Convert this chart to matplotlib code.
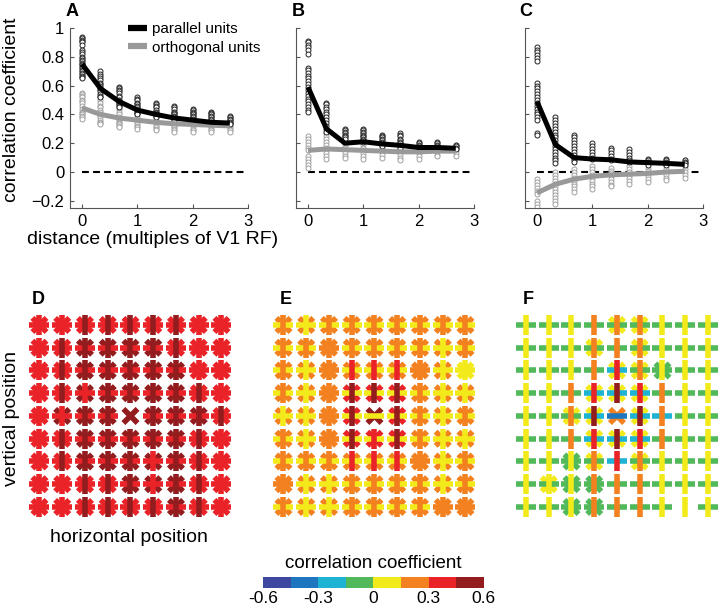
import numpy as np
import matplotlib
matplotlib.use("Agg")
import matplotlib.pyplot as plt
from matplotlib.colors import ListedColormap, BoundaryNorm
from matplotlib.collections import LineCollection
from matplotlib.lines import Line2D

plt.rcParams["font.family"] = ["Liberation Sans", "DejaVu Sans"]

# ---- top row data: distance (multiples of V1 RF) ----
distances = [0.0, 0.333, 0.667, 1.0, 1.333, 1.667, 2.0, 2.333, 2.667]

A_par_mean = [0.75, 0.58, 0.49, 0.43, 0.40, 0.375, 0.36, 0.345, 0.34]
A_orth_mean = [0.445, 0.40, 0.375, 0.36, 0.345, 0.335, 0.33, 0.325, 0.32]
B_par_mean = [0.59, 0.30, 0.20, 0.21, 0.195, 0.185, 0.17, 0.17, 0.165]
B_orth_mean = [0.15, 0.16, 0.155, 0.15, 0.145, 0.14, 0.14, 0.145, 0.145]
C_par_mean = [0.49, 0.19, 0.10, 0.09, 0.085, 0.07, 0.065, 0.06, 0.053]
C_orth_mean = [-0.145, -0.085, -0.05, -0.03, -0.02, -0.015, -0.01, 0.0, 0.005]

A_par_pts = [
    [0.94, 0.93, 0.92, 0.91, 0.90, 0.88, 0.85, 0.83, 0.82, 0.80, 0.79, 0.78, 0.77,
     0.76, 0.75, 0.74, 0.73, 0.72, 0.71, 0.70, 0.69, 0.68, 0.67, 0.66, 0.65],
    [0.70, 0.68, 0.67, 0.65, 0.64, 0.62, 0.61, 0.60, 0.58, 0.57, 0.56, 0.54, 0.53, 0.52],
    [0.59, 0.58, 0.57, 0.56, 0.55, 0.53, 0.52, 0.50, 0.49, 0.48, 0.47, 0.46, 0.45],
    [0.52, 0.51, 0.50, 0.48, 0.47, 0.46, 0.45, 0.44, 0.43, 0.42, 0.41, 0.40],
    [0.48, 0.47, 0.46, 0.45, 0.43, 0.42, 0.41, 0.40, 0.39, 0.38],
    [0.46, 0.45, 0.44, 0.42, 0.41, 0.40, 0.39, 0.38, 0.37, 0.36],
    [0.44, 0.43, 0.42, 0.41, 0.40, 0.39, 0.38, 0.37, 0.36, 0.35],
    [0.42, 0.41, 0.40, 0.39, 0.38, 0.37, 0.36, 0.35, 0.34],
    [0.39, 0.38, 0.37, 0.36, 0.35, 0.34, 0.33],
]
A_orth_pts = [
    [0.55, 0.54, 0.53, 0.52, 0.50, 0.49, 0.48, 0.46, 0.44, 0.42, 0.41, 0.40, 0.39, 0.38, 0.37],
    [0.52, 0.50, 0.48, 0.46, 0.45, 0.43, 0.42, 0.40, 0.39, 0.38, 0.36, 0.35, 0.34, 0.33],
    [0.50, 0.48, 0.46, 0.44, 0.42, 0.40, 0.38, 0.36, 0.35, 0.34, 0.33, 0.32, 0.31],
    [0.48, 0.46, 0.44, 0.42, 0.40, 0.38, 0.36, 0.35, 0.33, 0.32, 0.31, 0.30],
    [0.45, 0.43, 0.41, 0.40, 0.38, 0.36, 0.35, 0.34, 0.32, 0.31, 0.30, 0.29],
    [0.43, 0.42, 0.40, 0.38, 0.37, 0.35, 0.34, 0.32, 0.31, 0.30, 0.29, 0.28],
    [0.42, 0.40, 0.39, 0.37, 0.36, 0.34, 0.33, 0.32, 0.30, 0.29, 0.28],
    [0.40, 0.39, 0.37, 0.36, 0.35, 0.33, 0.32, 0.31, 0.30, 0.29, 0.28],
    [0.38, 0.37, 0.36, 0.35, 0.34, 0.33, 0.32, 0.31, 0.30, 0.29, 0.28],
]
B_par_pts = [
    [0.91, 0.90, 0.88, 0.87, 0.85, 0.82, 0.72, 0.71, 0.69, 0.67, 0.65, 0.63, 0.61,
     0.59, 0.57, 0.55, 0.53, 0.51, 0.49, 0.47, 0.45, 0.43, 0.42],
    [0.48, 0.47, 0.45, 0.44, 0.42, 0.40, 0.38, 0.36, 0.34, 0.32, 0.30, 0.28],
    [0.30, 0.29, 0.28, 0.27, 0.26, 0.25, 0.24, 0.23],
    [0.30, 0.29, 0.28, 0.27, 0.26, 0.25, 0.24, 0.23, 0.22, 0.21],
    [0.26, 0.25, 0.24, 0.23, 0.22, 0.21, 0.20, 0.19, 0.18],
    [0.27, 0.26, 0.25, 0.23, 0.22, 0.21, 0.20, 0.19, 0.18, 0.17],
    [0.21, 0.20, 0.19, 0.18, 0.17],
    [0.21, 0.20, 0.19, 0.18, 0.17],
    [0.19, 0.18, 0.17, 0.16],
]
B_orth_pts = [
    [0.25, 0.23, 0.21, 0.19, 0.17, 0.15, 0.11, 0.09, 0.07, 0.05, 0.03],
    [0.27, 0.25, 0.23, 0.21, 0.19, 0.17, 0.15, 0.13, 0.11, 0.09],
    [0.23, 0.21, 0.19, 0.17, 0.15, 0.13, 0.11, 0.10],
    [0.21, 0.19, 0.17, 0.15, 0.13, 0.11, 0.09],
    [0.20, 0.18, 0.16, 0.14, 0.12, 0.10],
    [0.20, 0.18, 0.16, 0.14, 0.12, 0.10, 0.08],
    [0.19, 0.17, 0.15, 0.13, 0.11, 0.09],
    [0.18, 0.16, 0.14, 0.12, 0.11],
    [0.19, 0.17, 0.15, 0.13, 0.11],
]
C_par_pts = [
    [0.87, 0.85, 0.83, 0.81, 0.79, 0.77, 0.62, 0.60, 0.58, 0.56, 0.54, 0.52, 0.50,
     0.48, 0.46, 0.44, 0.42, 0.40, 0.38, 0.36, 0.27, 0.26],
    [0.38, 0.36, 0.34, 0.32, 0.30, 0.28, 0.26, 0.24, 0.22, 0.20, 0.18, 0.16, 0.14,
     0.12, 0.10, 0.08, 0.06],
    [0.26, 0.24, 0.22, 0.20, 0.18, 0.16, 0.14, 0.12, 0.10, 0.08, 0.07],
    [0.20, 0.18, 0.16, 0.14, 0.12, 0.10, 0.09],
    [0.17, 0.15, 0.13, 0.11, 0.09, 0.08],
    [0.16, 0.14, 0.12, 0.10, 0.08, 0.07],
    [0.09, 0.08, 0.07, 0.06, 0.05],
    [0.09, 0.08, 0.07, 0.06, 0.05],
    [0.08, 0.07, 0.06, 0.05],
]
C_orth_pts = [
    [-0.05, -0.07, -0.09, -0.11, -0.13, -0.15, -0.20, -0.22, -0.24],
    [0.0, -0.02, -0.04, -0.06, -0.08, -0.10, -0.12, -0.14, -0.16, -0.18, -0.20, -0.22],
    [0.02, 0.0, -0.02, -0.04, -0.06, -0.08, -0.10, -0.12, -0.14],
    [0.04, 0.02, 0.0, -0.02, -0.04, -0.06, -0.08, -0.10, -0.12],
    [0.03, 0.01, -0.01, -0.03, -0.05, -0.07, -0.09, -0.10],
    [0.04, 0.02, 0.0, -0.02, -0.04, -0.06, -0.085],
    [0.03, 0.01, -0.01, -0.03, -0.05, -0.07],
    [0.04, 0.02, 0.0, -0.02, -0.04, -0.055],
    [0.08, 0.06, 0.04, 0.02, 0.0, -0.02, -0.04],
]

# ---- bottom row data: 9x9 maps, each cell "HVX" = colour bin of the
# horizontal, vertical and diagonal bars (0..7 along the colour bar, '.' = none)
D_cells = [
    "666 666 676 676 676 676 676 666 666",
    "666 676 677 677 677 677 676 666 666",
    "666 676 677 677 677 677 677 666 666",
    "666 676 667 677 677 677 677 676 666",
    "666 667 677 677 ..7 677 677 677 676",
    "666 676 677 677 677 677 677 676 666",
    "666 676 677 677 677 667 677 676 666",
    "666 666 676 676 677 667 677 676 666",
    "666 666 676 676 676 676 677 676 666",
]
E_cells = [
    "455 445 455 455 455 455 455 455 455",
    "455 455 555 455 455 455 455 445 455",
    "455 445 555 465 465 465 555 445 444",
    "455 445 555 476 476 476 455 445 445",
    "445 445 555 476 4.7 476 455 445 455",
    "455 445 555 476 466 476 455 445 445",
    "455 455 455 465 465 465 555 445 455",
    "555 445 445 455 455 455 455 445 455",
    "455 445 445 455 455 455 455 555 555",
]
F_cells = [
    "34. 34. 34. 35. 354 354 34. 34. 34.",
    "34. 34. 34. 354 35. 354 34. 34. 34.",
    "34. 34. 34. 35. 264 354 343 34. 34.",
    "34. 34. 35. 264 274 264 35. 34. 34.",
    "34. 34. 354 274 1.5 274 25. 34. 34.",
    "34. 34. 35. 264 274 264 35. 34. 34.",
    "34. 34. 343 354 26. 354 34. 34. 34.",
    "34. 344 343 353 35. 35. 34. 34. 34.",
    "34. 34. 343 353 35. 35. 34. .4. 34.",
]

cbar_colors = ["#3f48a0", "#1d76be", "#1fb3d3", "#52b95b",
               "#f3ea1c", "#f3811f", "#ea2328", "#931c1f"]
cbar_bounds = [-0.6, -0.45, -0.3, -0.15, 0.0, 0.15, 0.3, 0.45, 0.6]
cbar_ticks = [-0.6, -0.3, 0, 0.3, 0.6]
cbar_ticklabels = ["-0.6", "-0.3", "0", "0.3", "0.6"]

cmap = ListedColormap(cbar_colors)
norm = BoundaryNorm(cbar_bounds, cmap.N)

W, H = 720.0, 606.0
fig = plt.figure(figsize=(7.2, 6.06), dpi=100)


def px_axes(left, top, width, height):
    return fig.add_axes([left / W, 1 - (top + height) / H, width / W, height / H])


def line_panel(ax, par_pts, orth_pts, par_mean, orth_mean, ylabels):
    for x, ys in zip(distances, orth_pts):
        ax.plot([x] * len(ys), ys, "o", ms=3.6, mfc="white", mec="#a0a0a0", mew=0.7, zorder=2)
    for x, ys in zip(distances, par_pts):
        ax.plot([x] * len(ys), ys, "o", ms=3.6, mfc="white", mec="#222222", mew=0.7, zorder=3)
    ax.plot(distances, orth_mean, color="#999999", lw=3.6, zorder=4, solid_capstyle="butt")
    ax.plot(distances, par_mean, color="black", lw=3.6, zorder=5, solid_capstyle="butt")
    ax.plot([0, 2.97], [0, 0], "k--", lw=1.5, dashes=(3.3, 2.0), zorder=1)
    ax.set_xlim(-0.22, 3.0)
    ax.set_ylim(-0.25, 1.0)
    ax.set_xticks([0, 1, 2, 3])
    ax.set_xticklabels(["0", "1", "2", "3"])
    ax.set_yticks([-0.2, 0, 0.2, 0.4, 0.6, 0.8, 1.0])
    if ylabels:
        ax.set_yticklabels(["\u22120.2", "0", "0.2", "0.4", "0.6", "0.8", "1"])
    else:
        ax.set_yticklabels([])
    for s in ["top", "right"]:
        ax.spines[s].set_visible(False)
    for s in ["left", "bottom"]:
        ax.spines[s].set_color("#555555")
        ax.spines[s].set_linewidth(0.8)
    ax.tick_params(direction="in", length=3, width=0.8, color="#555555",
                   labelsize=12, pad=4)
    ax.patch.set_alpha(0)


axA = px_axes(69.8, 28, 178.4, 180)
axB = px_axes(295.8, 28, 178.4, 180)
axC = px_axes(524.8, 28, 178.4, 180)
line_panel(axA, A_par_pts, A_orth_pts, A_par_mean, A_orth_mean, True)
line_panel(axB, B_par_pts, B_orth_pts, B_par_mean, B_orth_mean, False)
line_panel(axC, C_par_pts, C_orth_pts, C_par_mean, C_orth_mean, False)

handles = [Line2D([], [], color="black", lw=4.5, solid_capstyle="butt"),
           Line2D([], [], color="#999999", lw=4.5, solid_capstyle="butt")]
axA.legend(handles, ["parallel units", "orthogonal units"], loc="upper left",
           bbox_to_anchor=(128 / W, 1 - 22 / H), bbox_transform=fig.transFigure,
           frameon=False, fontsize=11, handlelength=1.25, handletextpad=0.35,
           labelspacing=0.3, borderpad=0, borderaxespad=0)


def map_panel(ax, cells):
    half = 0.44
    d = half / np.sqrt(2)
    layers = {"X": ([], []), "H": ([], []), "V": ([], [])}
    for r, row in enumerate(cells):
        for c, cell in enumerate(row.split()):
            h, v, x = cell
            if x != ".":
                val = cbar_bounds[int(x)] + 0.075
                layers["X"][0].append([(c - d, r - d), (c + d, r + d)])
                layers["X"][0].append([(c - d, r + d), (c + d, r - d)])
                layers["X"][1].extend([val, val])
            if h != ".":
                layers["H"][0].append([(c - half, r), (c + half, r)])
                layers["H"][1].append(cbar_bounds[int(h)] + 0.075)
            if v != ".":
                layers["V"][0].append([(c, r - half), (c, r + half)])
                layers["V"][1].append(cbar_bounds[int(v)] + 0.075)
    for z, key in enumerate(["X", "H", "V"]):
        segs, vals = layers[key]
        if segs:
            lc = LineCollection(segs, cmap=cmap, norm=norm, linewidths=4.0,
                                capstyle="butt", zorder=z + 1)
            lc.set_array(np.array(vals))
            ax.add_collection(lc)
    ax.set_xlim(-0.5, 8.5)
    ax.set_ylim(8.5, -0.5)
    ax.axis("off")


axD = px_axes(28.1, 313.6, 204.75, 204.75)
axE = px_axes(272.1, 313.6, 204.75, 204.75)
axF = px_axes(514.6, 313.6, 204.75, 204.75)
map_panel(axD, D_cells)
map_panel(axE, E_cells)
map_panel(axF, F_cells)

# colour bar, drawn as an image strip of the bin centres
cax = px_axes(263, 577, 220, 11)
centres = np.array(cbar_bounds[:-1]) + 0.075
cax.imshow(centres[np.newaxis, :], cmap=cmap, norm=norm, aspect="auto",
           interpolation="nearest", extent=(cbar_bounds[0], cbar_bounds[-1], 0, 1))
cax.set_xlim(cbar_bounds[0], cbar_bounds[-1])
cax.set_xticks(cbar_ticks)
cax.set_xticklabels(cbar_ticklabels)
cax.set_yticks([])
for s in cax.spines.values():
    s.set_visible(False)
cax.tick_params(length=0, labelsize=12.5, pad=2)

# texts
for letter, x, y in [("A", 66, 3), ("B", 292, 3), ("C", 519, 3),
                     ("D", 32, 291), ("E", 280, 291), ("F", 523, 291)]:
    fig.text(x / W, 1 - y / H, letter, fontsize=13, fontweight="bold", va="top")

fig.text(12 / W, 1 - 110 / H, "correlation coefficient", rotation=90,
         ha="center", va="center", fontsize=14)
fig.text(153 / W, 1 - 239 / H, "distance (multiples of V1 RF)",
         ha="center", va="center", fontsize=14)
fig.text(12 / W, 1 - 418 / H, "vertical position", rotation=90,
         ha="center", va="center", fontsize=14)
fig.text(129 / W, 1 - 537 / H, "horizontal position",
         ha="center", va="center", fontsize=14)
fig.text(373 / W, 1 - 563 / H, "correlation coefficient",
         ha="center", va="center", fontsize=13.5)

fig.savefig("out.png", dpi=100)
